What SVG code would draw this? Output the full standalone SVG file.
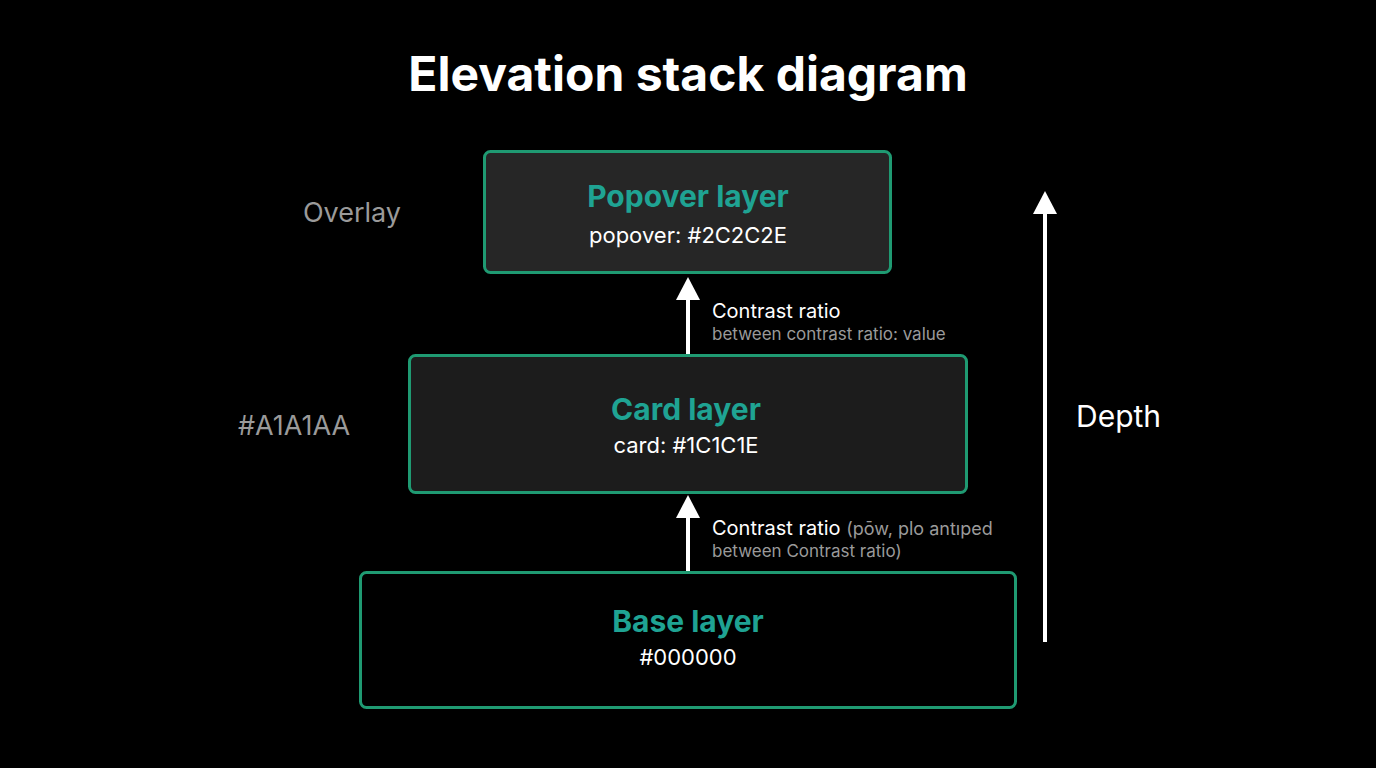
<svg xmlns="http://www.w3.org/2000/svg" width="1376" height="768" viewBox="0 0 1376 768">
<defs>
<style>
.box{stroke:#1f9a72;stroke-width:3}
.t{font-family:Inter,"Liberation Sans",sans-serif;font-size:30px;font-weight:700;fill:#1fa393;text-anchor:middle}
.s{font-family:Inter,"Liberation Sans",sans-serif;font-size:22px;fill:#fff;text-anchor:middle}
.l{font-family:Inter,"Liberation Sans",sans-serif;font-size:20px;fill:#fff}
.g{font-family:Inter,"Liberation Sans",sans-serif;fill:#9a9a9a}
.ln{stroke:#fff;stroke-width:4;fill:none}
</style>
<marker id="ah" viewBox="0 0 10 10" refX="5" refY="5" markerWidth="6" markerHeight="6" markerUnits="userSpaceOnUse" orient="auto"/>
</defs>
<rect width="1376" height="768" fill="#000"/>
<text x="688" y="91" font-family="Inter,'Liberation Sans',sans-serif" font-size="48" font-weight="700" fill="#fff" text-anchor="middle">Elevation stack diagram</text>
<g id="popover"><rect class="box" x="484.500" y="151.500" width="406" height="121" rx="6" fill="#262626"/><text class="t" x="688" y="207">Popover layer</text><text class="s" x="688" y="243">popover: #2C2C2E</text></g>
<g id="card"><rect class="box" x="409.500" y="355.500" width="557" height="137" rx="6" fill="#1c1c1c"/><text class="t" x="686" y="420">Card layer</text><text class="s" x="686" y="453">card: #1C1C1E</text></g>
<g id="base"><rect class="box" x="360.500" y="572.500" width="655" height="135" rx="6" fill="#000"/><text class="t" x="688" y="632">Base layer</text><text class="s" x="688" y="665">#000000</text></g>
<g id="labels">
<text class="g" x="352" y="222" font-size="27" text-anchor="middle">Overlay</text>
<text class="g" x="294" y="435" font-size="27" text-anchor="middle">#A1A1AA</text>
<text x="1076" y="427" font-family="Inter,'Liberation Sans',sans-serif" font-size="30" fill="#fff">Depth</text>
<text class="l" x="712" y="318">Contrast ratio</text>
<text class="g" x="712" y="340" font-size="17">between contrast ratio: value</text>
<text class="l" x="712" y="535">Contrast ratio <tspan fill="#9a9a9a" font-size="18">(pōw, plo antıped</tspan></text>
<text class="g" x="712" y="557" font-size="17">between Contrast ratio)</text>
</g>
<g id="connectors">
<line class="ln" x1="688" y1="354" x2="688" y2="296"/><polygon points="676,300 688,277 700,300" fill="#fff"/>
<line class="ln" x1="688" y1="571" x2="688" y2="515"/><polygon points="676,518 688,495 700,518" fill="#fff"/>
<line class="ln" x1="1045" y1="642" x2="1045" y2="210"/><polygon points="1033,214 1045,191 1057,214" fill="#fff"/>
</g>
</svg>
